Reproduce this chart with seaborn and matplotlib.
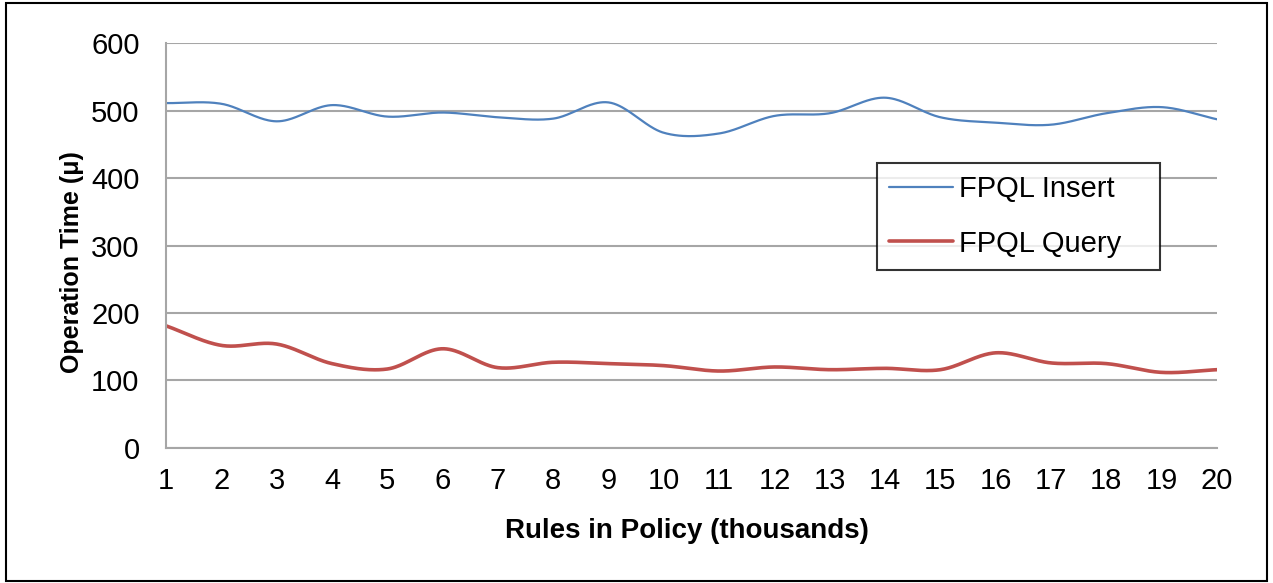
import numpy as np
import pandas as pd
import matplotlib
matplotlib.use("Agg")
import matplotlib.pyplot as plt
import seaborn as sns
from matplotlib.patches import Rectangle

# Policy size (thousands of rules) and measured operation times
rules = list(range(1, 21))
insert_time = [511, 510, 484, 508, 491, 497, 490, 488, 512, 467,
               466, 492, 496, 519, 490, 482, 479, 496, 505, 487]
query_time = [181, 152, 154, 125, 117, 147, 119, 127, 125, 122,
              114, 120, 116, 118, 116, 141, 126, 125, 112, 116]
series_names = ["FPQL Insert", "FPQL Query"]
y_ticks = [0, 100, 200, 300, 400, 500, 600]


def smooth(x, y, n=40):
    """Catmull-Rom smoothing of a polyline for display."""
    x = np.asarray(x, float)
    y = np.asarray(y, float)
    px = np.concatenate([[2 * x[0] - x[1]], x, [2 * x[-1] - x[-2]]])
    py = np.concatenate([[2 * y[0] - y[1]], y, [2 * y[-1] - y[-2]]])
    xs, ys = [], []
    t = np.linspace(0, 1, n, endpoint=False)
    for i in range(1, len(px) - 2):
        for arr, out in ((px, xs), (py, ys)):
            p0, p1, p2, p3 = arr[i - 1], arr[i], arr[i + 1], arr[i + 2]
            out.extend(0.5 * ((2 * p1) + (-p0 + p2) * t
                              + (2 * p0 - 5 * p1 + 4 * p2 - p3) * t ** 2
                              + (-p0 + 3 * p1 - 3 * p2 + p3) * t ** 3))
    xs.append(x[-1])
    ys.append(y[-1])
    return np.array(xs), np.array(ys)


frames = []
for name, vals in zip(series_names, [insert_time, query_time]):
    sx, sy = smooth(rules, vals)
    frames.append(pd.DataFrame({"rules": sx, "time": sy, "series": name}))
df = pd.concat(frames, ignore_index=True)

sns.set_theme(style="white")
plt.rcParams["font.family"] = ["Liberation Sans", "DejaVu Sans"]
plt.rcParams["text.color"] = "black"
plt.rcParams["axes.labelcolor"] = "black"

fig = plt.figure(figsize=(12.73, 5.83), dpi=100)
ax = fig.add_axes([0.1304, 0.2316, 0.8256, 0.6946])

palette = {"FPQL Insert": "#4F81BD", "FPQL Query": "#C0504D"}
widths = {"FPQL Insert": 1.6, "FPQL Query": 2.6}
sns.lineplot(data=df, x="rules", y="time", hue="series", palette=palette,
             sort=False, estimator=None, ax=ax, legend=False)
for line, name in zip(ax.lines, series_names):
    line.set_linewidth(widths[name])

ax.set_xlim(1, 20)
ax.set_ylim(0, 600)
ax.set_xticks(rules)
ax.set_yticks(y_ticks)
ax.tick_params(axis="both", labelsize=21, length=0, colors="black")
ax.tick_params(axis="x", pad=14)
ax.tick_params(axis="y", pad=19)
ax.yaxis.grid(True, color="#a6a6a6", linewidth=1.5)
ax.set_axisbelow(True)
for side in ["top", "right"]:
    ax.spines[side].set_visible(False)
for side in ["left", "bottom"]:
    ax.spines[side].set_color("#a6a6a6")
    ax.spines[side].set_linewidth(1.5)

ax.set_xlabel("Rules in Policy (thousands)", fontsize=20, fontweight="bold",
              va="baseline", color="black")
ax.xaxis.set_label_coords(0.4955, -0.222)
ax.set_ylabel("Operation Time (μ)", fontsize=18, fontweight="bold",
              va="baseline", color="black")
ax.yaxis.set_label_coords(-0.0828, 0.459)

handles = [plt.Line2D([], [], color=palette[n], linewidth=widths[n])
           for n in series_names]
leg = ax.legend(handles, series_names, loc="upper left",
                bbox_to_anchor=(0.6765, 0.7037 - 0.26, 0.2693, 0.26),
                mode="expand", alignment="center", fontsize=21,
                frameon=True, fancybox=False, handlelength=2.2,
                handletextpad=0.2, borderpad=0.42, labelspacing=0.9,
                borderaxespad=0)
leg.get_frame().set_edgecolor("black")
leg.get_frame().set_linewidth(1.5)
for txt in leg.get_texts():
    txt.set_color("black")

fig.patches.append(Rectangle((0.005, 0.004), 0.99, 0.99, transform=fig.transFigure,
                             fill=False, edgecolor="black", linewidth=1.5))

fig.savefig("out.png", dpi=100)
